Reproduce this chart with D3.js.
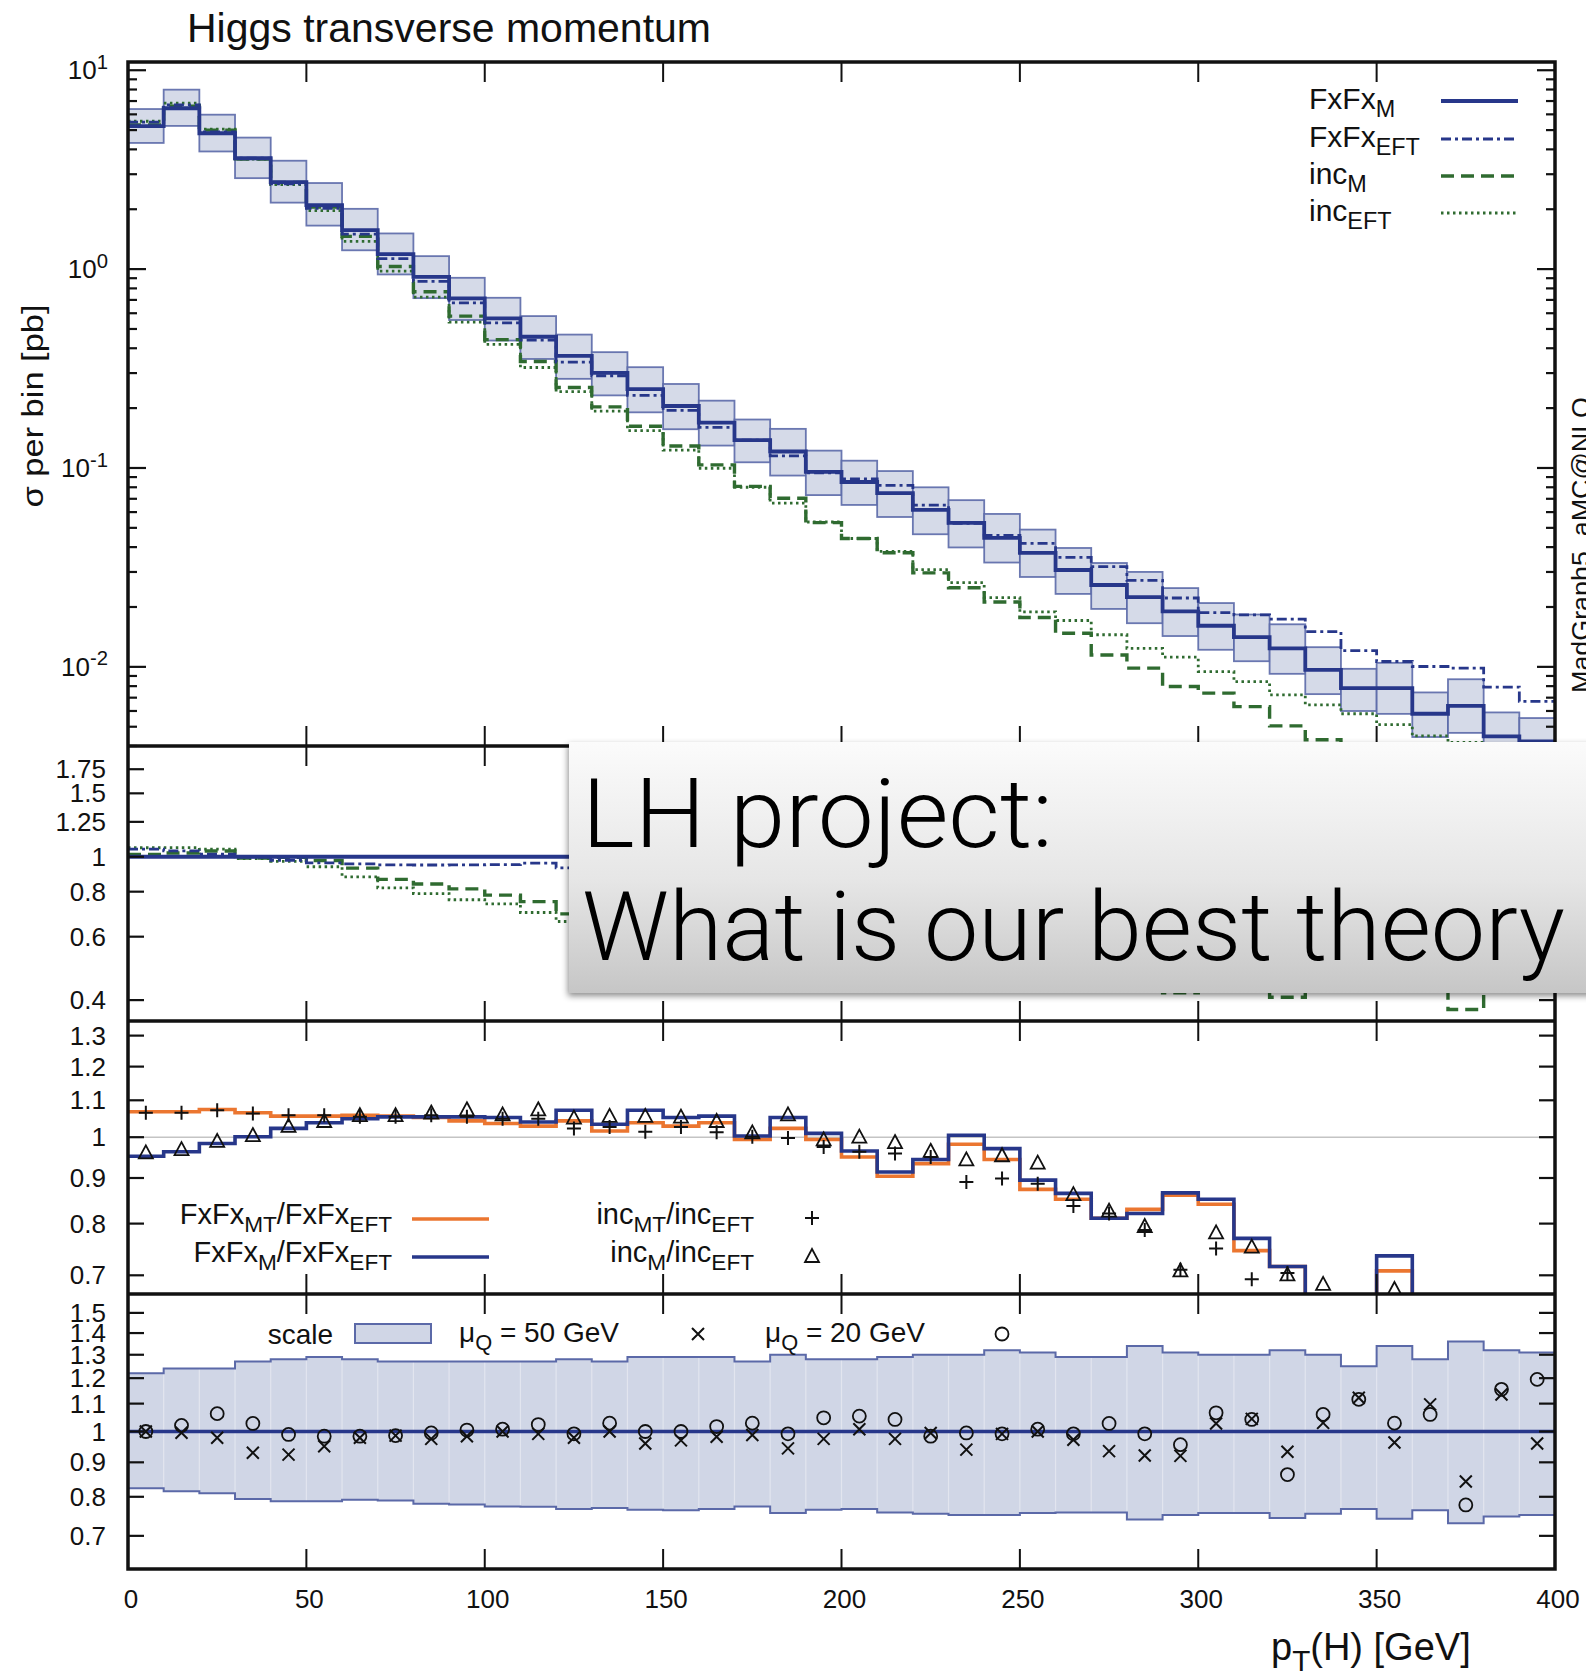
<!DOCTYPE html>
<html>
<head>
<meta charset="utf-8">
<script src="https://cdn.jsdelivr.net/npm/d3@7"></script>
<style>
  body { margin: 0; background: #fff; }
  svg text { font-family: "Liberation Sans", Arial, Helvetica, sans-serif; fill: #111; }
</style>
</head>
<body>
<svg id="chart" width="1586" height="1676"></svg>
<script>
// pT bins (lower edges, GeV), 10 GeV wide
const binLow = [0,10,20,30,40,50,60,70,80,90,100,110,120,130,140,150,160,170,180,190,
                200,210,220,230,240,250,260,270,280,290,300,310,320,330,340,350,360,370,380,390];
const binWidth = 10;

// main panel: sigma per bin [pb]
const fxfxM = [5.23,6.44,4.82,3.61,2.74,2.10,1.57,1.19,0.915,0.712,0.565,0.457,0.366,0.301,0.249,0.205,0.169,0.138,0.121,0.0955,
               0.085,0.0748,0.0615,0.053,0.0445,0.0374,0.0307,0.0258,0.0224,0.0190,0.0161,0.0141,0.0124,0.00966,0.00782,0.00782,0.00581,0.00637,0.00447,0.00422];
const fxfxEFT = [5.49,6.69,4.90,3.61,2.68,2.02,1.50,1.13,0.868,0.676,0.537,0.439,0.341,0.291,0.232,0.195,0.160,0.138,0.115,0.0946,
                 0.0881,0.0818,0.0651,0.0527,0.0458,0.0418,0.0355,0.0319,0.0272,0.0222,0.01875,0.01825,0.01738,0.01504,0.01207,0.01064,0.01004,0.00985,0.00791,0.0067];
const incM = [5.31,6.60,5.00,3.58,2.73,2.05,1.46,1.03,0.769,0.580,0.442,0.343,0.254,0.203,0.162,0.129,0.1037,0.0808,0.0705,0.0531,
              0.0442,0.0375,0.0297,0.0250,0.0212,0.0177,0.01476,0.01148,0.00985,0.00796,0.00738,0.00631,0.00505,0.0043,0.0035,0.0034,0.0030,0.0024,0.0022,0.0020];
const incEFT = [5.54,6.83,5.06,3.57,2.66,1.97,1.38,0.976,0.723,0.541,0.418,0.320,0.242,0.193,0.154,0.123,0.0997,0.080,0.0666,0.0535,
                0.0442,0.0381,0.0308,0.0265,0.0223,0.0189,0.0171,0.0145,0.0124,0.0112,0.00947,0.00843,0.00723,0.00644,0.00581,0.00512,0.0045,0.00417,0.0039,0.0036];

// scale uncertainty band (ratio to central FxFx_M)
const scaleHi = [1.22,1.24,1.24,1.27,1.28,1.29,1.28,1.27,1.27,1.27,1.27,1.27,1.28,1.27,1.29,1.29,1.29,1.27,1.30,1.28,
                 1.28,1.29,1.30,1.30,1.32,1.31,1.29,1.29,1.34,1.31,1.30,1.30,1.32,1.30,1.25,1.34,1.28,1.36,1.32,1.31];
const scaleLo = [0.824,0.815,0.810,0.794,0.788,0.788,0.792,0.790,0.781,0.779,0.774,0.773,0.767,0.770,0.765,0.764,0.767,0.774,0.757,0.765,
                 0.767,0.758,0.755,0.752,0.752,0.757,0.758,0.758,0.740,0.752,0.757,0.757,0.744,0.755,0.767,0.742,0.764,0.731,0.748,0.752];

// mass-effect ratio panel (0.6 = below the visible range)
const ratioFxMT = [1.068,1.068,1.074,1.065,1.056,1.056,1.058,1.056,1.052,1.043,1.036,1.029,1.043,1.016,1.038,1.029,1.038,0.994,1.023,0.994,
                   0.950,0.904,0.934,0.982,0.944,0.874,0.852,0.811,0.830,0.861,0.841,0.746,0.716,0.6,0.6,0.708,0.6,0.6,0.6,0.6];
const ratioFxM = [0.952,0.963,0.984,1.001,1.023,1.038,1.049,1.054,1.054,1.054,1.052,1.040,1.072,1.034,1.072,1.052,1.056,1.003,1.052,1.010,
                  0.965,0.914,0.944,1.005,0.971,0.895,0.865,0.811,0.821,0.866,0.852,0.770,0.716,0.6,0.6,0.736,0.6,0.6,0.6,0.6];
const ratioIncMT = [1.065,1.065,1.072,1.063,1.058,1.058,1.054,1.054,1.058,1.054,1.049,1.049,1.023,1.027,1.014,1.027,1.013,1.001,0.998,0.975,
                    0.963,0.959,0.950,0.891,0.899,0.887,0.837,0.821,0.787,0.710,0.750,0.693,0.704,0.6,0.6,0.6,0.6,0.6,0.6,0.6];
const ratioIncM = [0.959,0.967,0.988,1.003,1.027,1.040,1.056,1.056,1.063,1.072,1.058,1.072,1.049,1.054,1.054,1.052,1.040,1.010,1.058,0.992,
                   0.999,0.985,0.963,0.942,0.952,0.934,0.861,0.825,0.793,0.707,0.780,0.752,0.700,0.683,0.6,0.674,0.6,0.6,0.6,0.6];

// shower-scale panel
const muQ50 = [1.0,0.996,0.979,0.930,0.924,0.951,0.979,0.986,0.975,0.984,1.0,0.992,0.979,1.0,0.960,0.970,0.982,0.988,0.944,0.975,
               1.008,0.975,0.995,0.940,0.992,1.0,0.972,0.935,0.921,0.920,1.028,1.044,0.933,1.030,1.122,0.963,1.097,0.843,1.135,0.960];
const muQ20 = [1.0,1.021,1.063,1.028,0.990,0.984,0.984,0.986,0.995,1.005,1.008,1.024,0.992,1.029,1.0,1.0,1.017,1.029,0.992,1.048,
               1.054,1.042,0.984,0.995,0.992,1.008,0.992,1.028,0.992,0.956,1.066,1.042,0.863,1.060,1.116,1.029,1.060,0.778,1.155,1.195];

// tick labels
const xTickVals = [0,50,100,150,200,250,300,350,400];
const mainTicks = [10,1,0.1,0.01];
const r1Ticks = [1.75,1.5,1.25,1,0.8,0.6,0.4];
const r2Ticks = [1.3,1.2,1.1,1,0.9,0.8,0.7];
const r3Ticks = [1.5,1.4,1.3,1.2,1.1,1,0.9,0.8,0.7];

const blue = "#27378a", green = "#2f6b30", orange = "#eb7630";
const bandFill = "#d0d6e6", bandEdge = "#5b69a8";

const svg = d3.select("#chart");
const left = 128, right = 1555;
const x = d3.scaleLinear().domain([0, 400]).range([left, right]);

const panels = [
  { id: "main", top: 62, bottom: 746, y: d3.scaleLog().domain([0.004, 11]) },
  { id: "r1", top: 746, bottom: 1021, y: d3.scaleLog().domain([0.35, 2.03]) },
  { id: "r2", top: 1021, bottom: 1294, y: d3.scaleLog().domain([0.667, 1.35]) },
  { id: "r3", top: 1294, bottom: 1569, y: d3.scaleLog().domain([0.625, 1.6]) }
];
panels.forEach(p => p.y.range([p.bottom, p.top]));
const [pMain, p1, p2, p3] = panels;

const defs = svg.append("defs");
panels.forEach(p => {
  defs.append("clipPath").attr("id", "clip-" + p.id)
    .append("rect").attr("x", left).attr("y", p.top)
    .attr("width", right - left).attr("height", p.bottom - p.top);
});

// histogram step line through bin edges
function steps(vals) {
  const pts = [];
  vals.forEach((v, i) => { pts.push([binLow[i], v]); pts.push([binLow[i] + binWidth, v]); });
  return pts;
}
function drawStep(g, yScale, vals, color, width, dash) {
  g.append("path")
    .attr("d", d3.line().x(d => x(d[0])).y(d => yScale(d[1]))(steps(vals)))
    .attr("fill", "none").attr("stroke", color).attr("stroke-width", width)
    .attr("stroke-dasharray", dash || null);
}

// text with subscript / superscript pieces: [string, shift] shift: 0 normal, 1 sub, -1 sup
function rich(g, parts, size, attrs) {
  const t = g.append("text").attr("font-size", size);
  Object.entries(attrs).forEach(([k, v]) => t.attr(k, v));
  let cur = 0;
  parts.forEach(([s, shift]) => {
    const target = shift === 1 ? size * 0.28 : shift === -1 ? -size * 0.4 : 0;
    t.append("tspan").text(s)
      .attr("dy", target - cur)
      .attr("font-size", shift ? size * 0.78 : size);
    cur = target;
  });
  return t;
}

// ---------- main panel ----------
const gMain = svg.append("g").attr("clip-path", "url(#clip-main)");
gMain.selectAll("rect.band").data(fxfxM).join("rect")
  .attr("class", "band")
  .attr("x", (d, i) => x(binLow[i]))
  .attr("width", (d, i) => x(binLow[i] + binWidth) - x(binLow[i]))
  .attr("y", (d, i) => pMain.y(d * scaleHi[i]))
  .attr("height", (d, i) => pMain.y(d * scaleLo[i]) - pMain.y(d * scaleHi[i]))
  .attr("fill", bandFill).attr("fill-opacity", 0.9)
  .attr("stroke", bandEdge).attr("stroke-width", 1.8).attr("stroke-opacity", 0.9);
drawStep(gMain, pMain.y, incEFT, green, 2.8, "2.5,3.5");
drawStep(gMain, pMain.y, incM, green, 3.4, "13,7");
drawStep(gMain, pMain.y, fxfxEFT, blue, 2.8, "10,4,3,4");
drawStep(gMain, pMain.y, fxfxM, blue, 3.8);

// ---------- ratio panel 1: over FxFx_M ----------
const g1 = svg.append("g").attr("clip-path", "url(#clip-r1)");
drawStep(g1, p1.y, incEFT.map((v, i) => v / fxfxM[i]), green, 2.8, "2.5,3.5");
drawStep(g1, p1.y, incM.map((v, i) => v / fxfxM[i]), green, 3.4, "13,7");
drawStep(g1, p1.y, fxfxEFT.map((v, i) => v / fxfxM[i]), blue, 2.8, "10,4,3,4");
drawStep(g1, p1.y, fxfxM.map(() => 1), blue, 3.8);

// ---------- ratio panel 2: mass effects ----------
const g2 = svg.append("g").attr("clip-path", "url(#clip-r2)");
g2.append("line").attr("x1", left).attr("x2", right)
  .attr("y1", p2.y(1)).attr("y2", p2.y(1))
  .attr("stroke", "#c4c4c4").attr("stroke-width", 1.5);
drawStep(g2, p2.y, ratioFxMT, orange, 3.6);
drawStep(g2, p2.y, ratioFxM, blue, 3.6);

const plusPath = "M-7,0H7M0,-7V7";
const triPath = "M0,-8L7,5H-7Z";
const crossPath = "M-6,-6L6,6M-6,6L6,-6";
const mid = i => x(binLow[i] + binWidth / 2);

g2.selectAll("path.plus").data(ratioIncMT).join("path")
  .attr("class", "plus")
  .attr("transform", (d, i) => `translate(${mid(i)},${p2.y(d)})`)
  .attr("d", plusPath).attr("fill", "none").attr("stroke", "#111").attr("stroke-width", 2);
g2.selectAll("path.tri").data(ratioIncM).join("path")
  .attr("class", "tri")
  .attr("transform", (d, i) => `translate(${mid(i)},${p2.y(d)})`)
  .attr("d", triPath).attr("fill", "none").attr("stroke", "#111").attr("stroke-width", 1.8);

// ---------- ratio panel 3: shower scale ----------
const g3 = svg.append("g").attr("clip-path", "url(#clip-r3)");
const bandArea = d3.area().x(d => x(d[0])).y0(d => p3.y(d[1])).y1(d => p3.y(d[2]));
const bandPts = [];
scaleHi.forEach((h, i) => {
  bandPts.push([binLow[i], scaleLo[i], h]);
  bandPts.push([binLow[i] + binWidth, scaleLo[i], h]);
});
g3.append("path").attr("d", bandArea(bandPts)).attr("fill", bandFill);
g3.selectAll("line.sep").data(binLow.slice(1)).join("line")
  .attr("class", "sep")
  .attr("x1", d => x(d)).attr("x2", d => x(d))
  .attr("y1", (d, i) => p3.y(Math.min(scaleHi[i], scaleHi[i + 1])))
  .attr("y2", (d, i) => p3.y(Math.max(scaleLo[i], scaleLo[i + 1])))
  .attr("stroke", "#e2e5ef").attr("stroke-width", 1.2);
drawStep(g3, p3.y, scaleHi, bandEdge, 2);
drawStep(g3, p3.y, scaleLo, bandEdge, 2);
drawStep(g3, p3.y, fxfxM.map(() => 1), blue, 3.6);
g3.selectAll("path.cross").data(muQ50).join("path")
  .attr("class", "cross")
  .attr("transform", (d, i) => `translate(${mid(i)},${p3.y(d)})`)
  .attr("d", crossPath).attr("fill", "none").attr("stroke", "#111").attr("stroke-width", 2);
g3.selectAll("circle.circ").data(muQ20).join("circle")
  .attr("class", "circ")
  .attr("cx", (d, i) => mid(i)).attr("cy", d => p3.y(d)).attr("r", 6.5)
  .attr("fill", "none").attr("stroke", "#111").attr("stroke-width", 1.8);

// ---------- frames and ticks ----------
const axes = svg.append("g");
const xMajor = [50, 100, 150, 200, 250, 300, 350];
panels.forEach(p => {
  xMajor.forEach(v => {
    axes.append("line").attr("x1", x(v)).attr("x2", x(v)).attr("y1", p.top).attr("y2", p.top + 20)
      .attr("stroke", "#111").attr("stroke-width", 2);
    axes.append("line").attr("x1", x(v)).attr("x2", x(v)).attr("y1", p.bottom).attr("y2", p.bottom - 20)
      .attr("stroke", "#111").attr("stroke-width", 2);
  });
});

function yTick(p, v, len) {
  const yy = p.y(v);
  axes.append("line").attr("x1", left).attr("x2", left + len).attr("y1", yy).attr("y2", yy)
    .attr("stroke", "#111").attr("stroke-width", 2.2);
  axes.append("line").attr("x1", right).attr("x2", right - len).attr("y1", yy).attr("y2", yy)
    .attr("stroke", "#111").attr("stroke-width", 2.2);
}

// main panel log ticks
[0.001, 0.01, 0.1, 1, 10].forEach(dec => {
  [1, 2, 3, 4, 5, 6, 7, 8, 9].forEach(m => {
    const v = dec * m;
    if (v < pMain.y.domain()[0] || v > pMain.y.domain()[1]) return;
    yTick(pMain, v, m === 1 ? 18 : 9);
  });
});
mainTicks.forEach(v => {
  const e = Math.round(Math.log10(v));
  rich(axes, [["10", 0], [String(e), -1]], 26,
    { x: 108, y: pMain.y(v) + 9, "text-anchor": "end" });
});

[[p1, r1Ticks], [p2, r2Ticks], [p3, r3Ticks]].forEach(([p, ticks]) => {
  ticks.forEach(v => {
    yTick(p, v, 16);
    axes.append("text").attr("x", 106).attr("y", p.y(v) + 9)
      .attr("text-anchor", "end").attr("font-size", 26).text(String(v));
  });
});

// x tick labels
xTickVals.forEach(v => {
  axes.append("text").attr("x", x(v) + 3).attr("y", 1608)
    .attr("text-anchor", "middle").attr("font-size", 26).text(v);
});

// frame
axes.append("rect").attr("x", left).attr("y", pMain.top)
  .attr("width", right - left).attr("height", p3.bottom - pMain.top)
  .attr("fill", "none").attr("stroke", "#111").attr("stroke-width", 3.5);
[p1.top, p2.top, p3.top].forEach(yy => {
  axes.append("line").attr("x1", left).attr("x2", right).attr("y1", yy).attr("y2", yy)
    .attr("stroke", "#111").attr("stroke-width", 3.5);
});

// ---------- texts ----------
svg.append("text").attr("x", 187).attr("y", 42).attr("font-size", 40)
  .attr("textLength", 524).attr("lengthAdjust", "spacingAndGlyphs")
  .text("Higgs transverse momentum");

svg.append("text").attr("transform", "translate(43,406) rotate(-90)")
  .attr("text-anchor", "middle").attr("font-size", 30)
  .attr("textLength", 203).attr("lengthAdjust", "spacingAndGlyphs")
  .text("σ per bin [pb]");

rich(svg, [["p", 0], ["T", 1], ["(H) [GeV]", 0]], 38,
  { x: 1271, y: 1660 });

// program tag, partly outside the picture as in the original
svg.append("text").attr("transform", "translate(1590,545) rotate(-90)")
  .attr("text-anchor", "middle").attr("font-size", 26)
  .attr("textLength", 296).attr("lengthAdjust", "spacingAndGlyphs")
  .text("MadGraph5_aMC@NLO");

// main legend
const mainLegend = [
  { parts: [["FxFx", 0], ["M", 1]], color: blue, w: 3.8, dash: null, y: 101 },
  { parts: [["FxFx", 0], ["EFT", 1]], color: blue, w: 2.8, dash: "10,4,3,4", y: 139 },
  { parts: [["inc", 0], ["M", 1]], color: green, w: 3.4, dash: "13,7", y: 176 },
  { parts: [["inc", 0], ["EFT", 1]], color: green, w: 2.8, dash: "2.5,3.5", y: 213 }
];
mainLegend.forEach(l => {
  rich(svg, l.parts, 30, { x: 1309, y: l.y + 8 });
  svg.append("line").attr("x1", 1441).attr("x2", 1518).attr("y1", l.y).attr("y2", l.y)
    .attr("stroke", l.color).attr("stroke-width", l.w).attr("stroke-dasharray", l.dash);
});

// panel 2 legend
rich(svg, [["FxFx", 0], ["MT", 1], ["/FxFx", 0], ["EFT", 1]], 29, { x: 392, y: 1224, "text-anchor": "end" });
rich(svg, [["FxFx", 0], ["M", 1], ["/FxFx", 0], ["EFT", 1]], 29, { x: 392, y: 1262, "text-anchor": "end" });
svg.append("line").attr("x1", 412).attr("x2", 489).attr("y1", 1219).attr("y2", 1219)
  .attr("stroke", orange).attr("stroke-width", 3.6);
svg.append("line").attr("x1", 412).attr("x2", 489).attr("y1", 1257).attr("y2", 1257)
  .attr("stroke", blue).attr("stroke-width", 3.6);
rich(svg, [["inc", 0], ["MT", 1], ["/inc", 0], ["EFT", 1]], 29, { x: 754, y: 1224, "text-anchor": "end" });
rich(svg, [["inc", 0], ["M", 1], ["/inc", 0], ["EFT", 1]], 29, { x: 754, y: 1262, "text-anchor": "end" });
svg.append("path").attr("transform", "translate(812,1218)").attr("d", plusPath)
  .attr("fill", "none").attr("stroke", "#111").attr("stroke-width", 2);
svg.append("path").attr("transform", "translate(812,1257)").attr("d", triPath)
  .attr("fill", "none").attr("stroke", "#111").attr("stroke-width", 1.8);

// panel 3 legend
svg.append("text").attr("x", 333).attr("y", 1344).attr("text-anchor", "end")
  .attr("font-size", 28).text("scale");
svg.append("rect").attr("x", 355).attr("y", 1324).attr("width", 76).attr("height", 19)
  .attr("fill", bandFill).attr("stroke", bandEdge).attr("stroke-width", 2);
rich(svg, [["μ", 0], ["Q", 1], [" = 50 GeV", 0]], 28, { x: 459, y: 1342 });
svg.append("path").attr("transform", "translate(698,1334)").attr("d", crossPath)
  .attr("fill", "none").attr("stroke", "#111").attr("stroke-width", 2);
rich(svg, [["μ", 0], ["Q", 1], [" = 20 GeV", 0]], 28, { x: 765, y: 1342 });
svg.append("circle").attr("cx", 1002).attr("cy", 1334).attr("r", 6.5)
  .attr("fill", "none").attr("stroke", "#111").attr("stroke-width", 1.8);

// ---------- overlay slide box ----------
const grad = defs.append("linearGradient").attr("id", "boxGrad")
  .attr("x1", 0).attr("y1", 0).attr("x2", 0).attr("y2", 1);
grad.append("stop").attr("offset", "0%").attr("stop-color", "#fbfbfb");
grad.append("stop").attr("offset", "55%").attr("stop-color", "#e6e6e6");
grad.append("stop").attr("offset", "100%").attr("stop-color", "#c6c6c6");
const shadow = defs.append("filter").attr("id", "boxShadow")
  .attr("x", "-5%").attr("y", "-10%").attr("width", "110%").attr("height", "125%");
shadow.append("feDropShadow").attr("dx", -1).attr("dy", 3).attr("stdDeviation", 3)
  .attr("flood-color", "#000").attr("flood-opacity", 0.45);

const box = svg.append("g");
box.append("rect").attr("x", 569).attr("y", 742).attr("width", 1040).attr("height", 251)
  .attr("fill", "url(#boxGrad)").attr("filter", "url(#boxShadow)");
box.append("text").attr("x", 582).attr("y", 847).attr("font-size", 96)
  .attr("font-weight", 300).style("font-family", "Roboto, 'Open Sans', Lato, sans-serif")
  .style("fill", "#000")
  .attr("textLength", 471).attr("lengthAdjust", "spacingAndGlyphs")
  .text("LH project:");
box.append("text").attr("x", 582).attr("y", 960).attr("font-size", 96)
  .attr("font-weight", 300).style("font-family", "Roboto, 'Open Sans', Lato, sans-serif")
  .style("fill", "#000")
  .attr("textLength", 983).attr("lengthAdjust", "spacingAndGlyphs")
  .text("What is our best theory");
</script>
</body>
</html>
